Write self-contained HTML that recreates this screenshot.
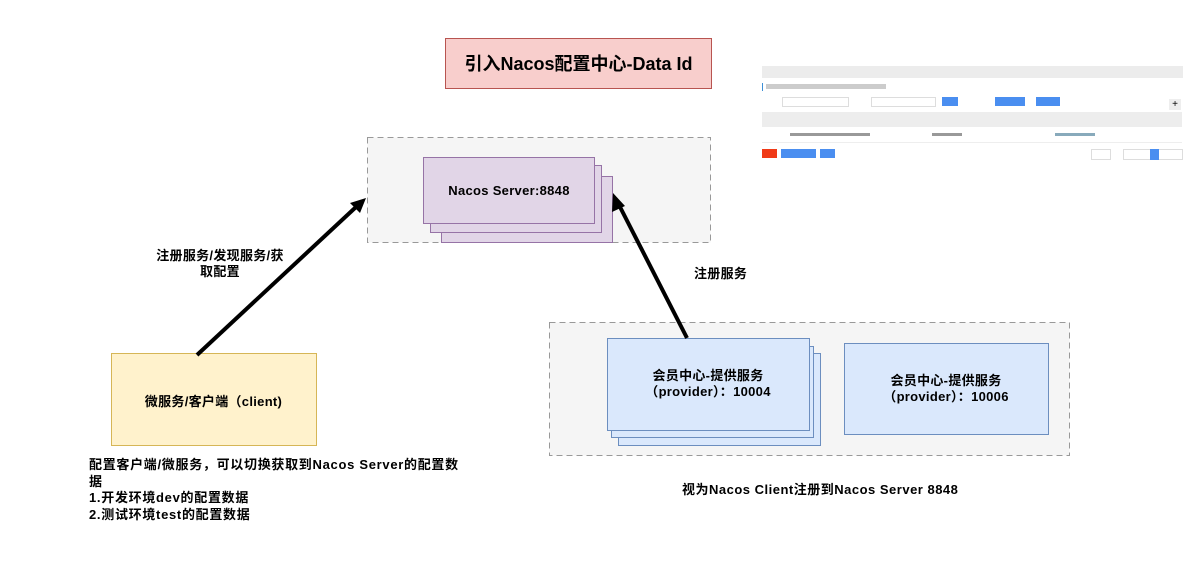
<!DOCTYPE html>
<html><head><meta charset="utf-8"><style>
body{margin:0;width:1201px;height:581px;background:#fff;overflow:hidden;position:relative;font-family:"Liberation Sans","Noto Sans CJK SC",sans-serif}
.a{position:absolute}
.t{position:absolute;font-weight:bold;font-size:13px;color:#000;white-space:nowrap;letter-spacing:0.3px}
</style></head><body>
<svg class="a" style="left:0;top:0" width="1201" height="581">
<rect x="445.5" y="38.5" width="266" height="50" fill="#f8cecc" stroke="#b85450"/>
<rect x="367.5" y="137.5" width="343" height="105" fill="#f5f5f5" stroke="#999" stroke-dasharray="6 4"/>
<rect x="441.5" y="176.5" width="171" height="66" fill="#e1d5e7" stroke="#9673a6"/>
<rect x="430.5" y="165.5" width="171" height="67" fill="#e1d5e7" stroke="#9673a6"/>
<rect x="423.5" y="157.5" width="171" height="66" fill="#e1d5e7" stroke="#9673a6"/>
<rect x="549.5" y="322.5" width="520" height="133" fill="#f5f5f5" stroke="#999" stroke-dasharray="6 4"/>
<rect x="618.5" y="353.5" width="202" height="92" fill="#dae8fc" stroke="#6c8ebf"/>
<rect x="611.5" y="346.5" width="202" height="91" fill="#dae8fc" stroke="#6c8ebf"/>
<rect x="607.5" y="338.5" width="202" height="92" fill="#dae8fc" stroke="#6c8ebf"/>
<rect x="844.5" y="343.5" width="204" height="91" fill="#dae8fc" stroke="#6c8ebf"/>
<rect x="111.5" y="353.5" width="205" height="92" fill="#fff2cc" stroke="#d6b656"/>
<line x1="197" y1="355" x2="356" y2="207" stroke="#000" stroke-width="4"/>
<polygon points="366,198 350,203 360,213" fill="#000"/>
<line x1="687" y1="338" x2="618" y2="203" stroke="#000" stroke-width="4"/>
<polygon points="613,193 612,212 625,206" fill="#000"/>
</svg>
<div class="t" style="left:445px;top:50px;width:267px;text-align:center;font-size:18px;letter-spacing:0">引入Nacos配置中心-Data Id</div>
<div class="t" style="left:423px;top:183px;width:172px;text-align:center">Nacos Server:8848</div>
<div class="t" style="left:140px;top:248px;width:160px;text-align:center;line-height:16px">注册服务/发现服务/获<br>取配置</div>
<div class="t" style="left:694px;top:263px">注册服务</div>
<div class="t" style="left:111px;top:391px;width:205px;text-align:center">微服务/客户端（client)</div>
<div class="t" style="left:607px;top:368px;width:202px;text-align:center;line-height:16px">会员中心-提供服务<br>（provider）：10004</div>
<div class="t" style="left:844px;top:373px;width:204px;text-align:center;line-height:16px">会员中心-提供服务<br>（provider）：10006</div>
<div class="t" style="left:89px;top:457px;line-height:16.5px;letter-spacing:0.7px">配置客户端/微服务，可以切换获取到Nacos Server的配置数<br>据<br>1.开发环境dev的配置数据<br>2.测试环境test的配置数据</div>
<div class="t" style="left:682px;top:479px;letter-spacing:0.5px">视为Nacos Client注册到Nacos Server 8848</div>
<!-- thumbnail -->
<div class="a" style="left:762px;top:66px;width:421px;height:12px;background:#ececec"></div>
<div class="a" style="left:762px;top:83px;width:1px;height:8px;background:#3c8fd6"></div>
<div class="a" style="left:766px;top:84px;width:120px;height:5px;background:#ccc"></div>
<div class="a" style="left:782px;top:97px;width:65px;height:8px;border:1px solid #ddd"></div>
<div class="a" style="left:871px;top:97px;width:63px;height:8px;border:1px solid #ddd"></div>
<div class="a" style="left:942px;top:97px;width:16px;height:9px;background:#4a8ef0"></div>
<div class="a" style="left:995px;top:97px;width:30px;height:9px;background:#4a8ef0"></div>
<div class="a" style="left:1036px;top:97px;width:24px;height:9px;background:#4a8ef0"></div>
<div class="a" style="left:1169px;top:99px;width:12px;height:11px;background:#eee;font-size:10px;text-align:center;line-height:11px">+</div>
<div class="a" style="left:762px;top:112px;width:420px;height:15px;background:#ededed"></div>
<div class="a" style="left:762px;top:127px;width:420px;height:15px;border-bottom:1px solid #eee"></div>
<div class="a" style="left:790px;top:133px;width:80px;height:3px;background:#999"></div>
<div class="a" style="left:932px;top:133px;width:30px;height:3px;background:#999"></div>
<div class="a" style="left:1055px;top:133px;width:40px;height:3px;background:#8ab"></div>
<div class="a" style="left:762px;top:149px;width:15px;height:9px;background:#f03a17"></div>
<div class="a" style="left:781px;top:149px;width:35px;height:9px;background:#4a8ef0"></div>
<div class="a" style="left:820px;top:149px;width:15px;height:9px;background:#4a8ef0"></div>
<div class="a" style="left:1091px;top:149px;width:18px;height:9px;border:1px solid #ddd"></div>
<div class="a" style="left:1123px;top:149px;width:58px;height:9px;border:1px solid #ddd"></div>
<div class="a" style="left:1150px;top:149px;width:9px;height:11px;background:#4a8ef0"></div>
</body></html>
